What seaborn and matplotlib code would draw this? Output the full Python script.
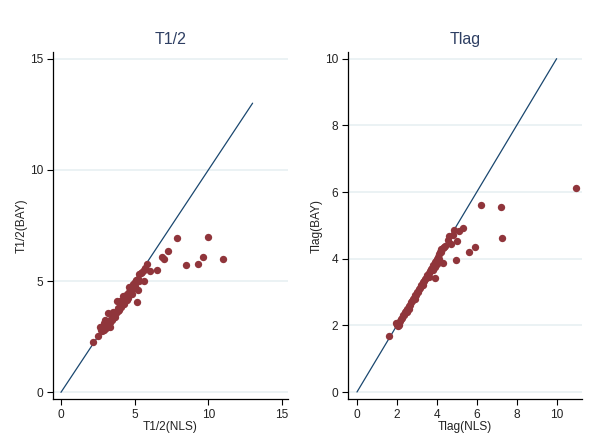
import matplotlib
matplotlib.use("Agg")
import matplotlib.pyplot as plt
import seaborn as sns
import pandas as pd

# ---------------- data ----------------
t12_nls = [2.19, 2.53, 2.65, 2.7, 2.75, 2.8, 2.9, 2.95, 3.0, 3.05, 3.1, 3.15, 3.2, 3.2, 3.25,
           3.3, 3.35, 3.4, 3.45, 3.5, 3.55, 3.6, 3.65, 3.7, 3.78, 3.8, 3.85, 3.9, 3.95, 4.0,
           4.0, 4.05, 4.1, 4.15, 4.2, 4.25, 4.3, 4.35, 4.4, 4.45, 4.5, 4.55, 4.6, 4.65, 4.7,
           4.75, 4.8, 4.85, 4.9, 4.95, 5.0, 5.05, 5.1, 5.2, 5.3, 5.4, 5.5, 5.6, 5.7, 5.82,
           3.0, 3.5, 4.2, 4.6, 3.3, 4.3, 4.4, 2.9, 5.3, 3.1, 3.6, 4.1,
           5.18, 5.25, 5.63, 6.04, 6.54, 6.83, 6.98, 7.24, 7.85, 8.49, 9.32, 9.66, 10.0, 10.98]
t12_bay = [2.27, 2.52, 2.94, 2.8, 2.95, 2.75, 2.8, 2.85, 2.9, 2.9, 3.0, 2.95, 3.55, 3.05, 3.05,
           3.15, 3.15, 3.3, 3.25, 3.35, 3.35, 3.5, 3.4, 3.55, 4.1, 3.65, 3.65, 3.8, 3.7, 3.9,
           4.1, 3.85, 4.0, 3.95, 4.1, 4.05, 4.25, 4.15, 4.3, 4.15, 4.4, 4.25, 4.5, 4.4, 4.6,
           4.5, 4.75, 4.4, 4.85, 4.7, 4.95, 4.8, 5.05, 5.1, 5.3, 5.35, 5.4, 5.5, 5.6, 5.75,
           3.25, 3.6, 4.35, 4.75, 2.95, 3.95, 4.2, 3.1, 5.0, 2.95, 3.45, 3.95,
           4.07, 4.62, 5.01, 5.47, 5.5, 6.1, 5.98, 6.36, 6.92, 5.72, 5.77, 6.07, 7.0, 6.0]

tlag_nls = [1.62, 1.96, 2.0, 2.05, 2.1, 2.15, 2.2, 2.25, 2.3, 2.35, 2.4, 2.45, 2.5, 2.55, 2.6,
            2.65, 2.7, 2.75, 2.8, 2.85, 2.9, 2.95, 3.0, 3.05, 3.1, 3.15, 3.2, 3.25, 3.3, 3.35,
            3.4, 3.45, 3.5, 3.55, 3.6, 3.65, 3.7, 3.75, 3.8, 3.85, 3.9, 3.95, 4.0, 4.05, 4.1,
            4.15, 4.2, 4.3, 4.4, 3.8, 3.9, 4.0, 3.6, 2.5, 2.6, 4.1, 2.1, 2.9, 3.3, 2.0,
            3.92, 4.22, 4.29, 4.34, 4.54, 4.6, 4.69, 4.8, 4.86, 4.94, 4.99, 5.13, 5.29,
            5.6, 5.9, 6.2, 7.2, 7.24, 10.99]
tlag_bay = [1.68, 2.06, 2.0, 1.98, 2.08, 2.12, 2.2, 2.22, 2.3, 2.32, 2.4, 2.42, 2.5, 2.5, 2.58,
            2.62, 2.7, 2.72, 2.78, 2.82, 2.9, 2.92, 3.0, 3.0, 3.08, 3.12, 3.2, 3.22, 3.3, 3.32,
            3.4, 3.42, 3.5, 3.5, 3.58, 3.62, 3.7, 3.72, 3.8, 3.78, 3.9, 3.92, 4.0, 4.05, 4.15,
            4.2, 4.28, 4.32, 4.38, 3.65, 3.75, 3.85, 3.45, 2.4, 2.5, 4.0, 2.02, 2.8, 3.2, 2.05,
            3.41, 4.21, 3.86, 4.36, 4.56, 4.68, 4.43, 4.71, 4.86, 3.95, 4.54, 4.83, 4.91,
            4.21, 4.36, 5.62, 5.56, 4.62, 6.13]

diag_left = [0, 13]
diag_right = [0, 10]

left_ticks = [0, 5, 10, 15]
right_ticks = [0, 2, 4, 6, 8, 10]

# ---------------- style ----------------
sns.set_theme(style="white")
plt.rcParams['font.family'] = ['Liberation Sans', 'DejaVu Sans']

dot_color = "#90353b"
line_color = "#1a476f"
grid_color = "#e6eff1"
title_color = "#2e3f63"

fig = plt.figure(figsize=(5.94, 4.48), dpi=100)
ax1 = fig.add_axes([53/594, 1 - 399/448, (288-53)/594, (399-52)/448])
ax2 = fig.add_axes([348/594, 1 - 399/448, (582-348)/594, (399-52)/448])

df1 = pd.DataFrame({"x": t12_nls, "y": t12_bay})
df2 = pd.DataFrame({"x": tlag_nls, "y": tlag_bay})


def style(ax, ticks, xlim, ylim, title, xlabel, ylabel):
    ax.set_xlim(*xlim)
    ax.set_ylim(*ylim)
    ax.set_xticks(ticks)
    ax.set_yticks(ticks)
    ax.set_axisbelow(True)
    for t in ticks:
        ax.axhline(t, color=grid_color, lw=1.1, zorder=0)
    for s in ["top", "right"]:
        ax.spines[s].set_visible(False)
    for s in ["left", "bottom"]:
        ax.spines[s].set_color("black")
        ax.spines[s].set_linewidth(0.9)
    ax.tick_params(axis="both", which="both", direction="out", length=4, width=0.8,
                   color="black", labelsize=8.6, labelcolor="#222222", pad=3,
                   bottom=True, left=True)
    ax.set_title(title, fontsize=11.5, color=title_color, pad=6)
    ax.set_xlabel(xlabel, fontsize=8.6, color="#222222", labelpad=0)
    ax.set_ylabel(ylabel, fontsize=8.6, color="#222222", labelpad=2)


sns.lineplot(x=diag_left, y=diag_left, ax=ax1, color=line_color, lw=0.9, zorder=2)
sns.scatterplot(data=df1, x="x", y="y", ax=ax1, color=dot_color, s=28,
                edgecolor=dot_color, linewidth=0, zorder=3)
style(ax1, left_ticks, (-0.54, 15.4), (-0.3, 15.3), "T1/2", "T1/2(NLS)", "T1/2(BAY)")

sns.lineplot(x=diag_right, y=diag_right, ax=ax2, color=line_color, lw=0.9, zorder=2)
sns.scatterplot(data=df2, x="x", y="y", ax=ax2, color=dot_color, s=28,
                edgecolor=dot_color, linewidth=0, zorder=3)
style(ax2, right_ticks, (-0.45, 11.27), (-0.21, 10.2), "Tlag", "Tlag(NLS)", "Tlag(BAY)")

fig.savefig("out.png", dpi=100, facecolor="white")
